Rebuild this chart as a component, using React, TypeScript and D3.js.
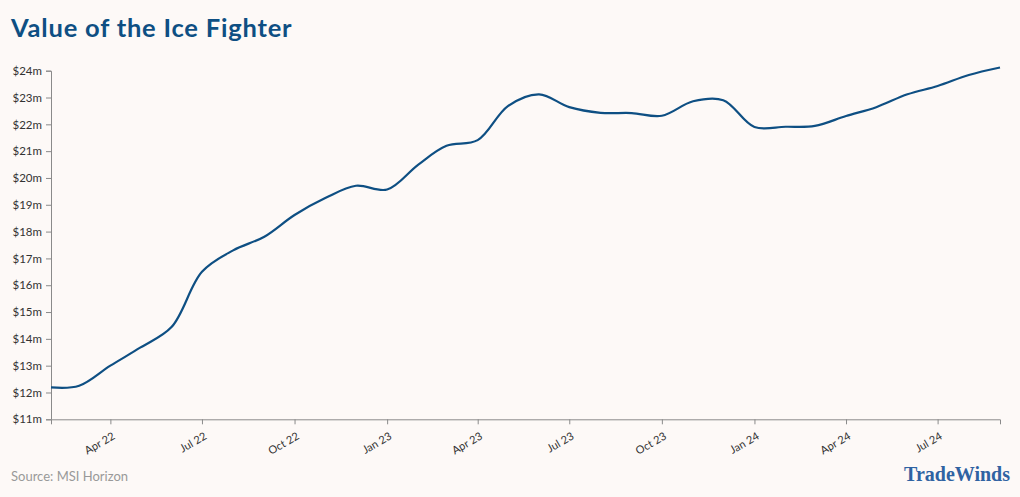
import * as React from 'react';
import * as d3 from 'd3';
import { useRef, useEffect } from 'react';

// monthly values, Feb 2022 .. Sep 2024 ($m)
const months: string[] = [
  '2022-02', '2022-03', '2022-04', '2022-05', '2022-06', '2022-07', '2022-08', '2022-09',
  '2022-10', '2022-11', '2022-12', '2023-01', '2023-02', '2023-03', '2023-04', '2023-05',
  '2023-06', '2023-07', '2023-08', '2023-09', '2023-10', '2023-11', '2023-12', '2024-01',
  '2024-02', '2024-03', '2024-04', '2024-05', '2024-06', '2024-07', '2024-08', '2024-09',
];
const values: number[] = [
  12.19, 12.25, 13.0, 13.68, 14.45, 16.5, 17.3, 17.81,
  18.62, 19.26, 19.71, 19.57, 20.5, 21.2, 21.41, 22.68,
  23.12, 22.64, 22.43, 22.42, 22.32, 22.86, 22.9, 21.9,
  21.91, 21.94, 22.31, 22.64, 23.12, 23.43, 23.84, 24.12,
];
const yTicks: number[] = [11, 12, 13, 14, 15, 16, 17, 18, 19, 20, 21, 22, 23, 24];
const xTickDates: string[] = [
  '2022-04', '2022-07', '2022-10', '2023-01', '2023-04', '2023-07',
  '2023-10', '2024-01', '2024-04', '2024-07',
];

const title = 'Value of the Ice Fighter';
const source = 'Source: MSI Horizon';

const width = 1020;
const height = 497;
const marginLeft = 51;
const marginRight = 20;
const marginTop = 70.7;
const bottomY = 419.3;

const parse = d3.utcParse('%Y-%m');
const fmt = d3.utcFormat('%b %y');

export default function App() {
  const gx = useRef<SVGGElement>(null);
  const gy = useRef<SVGGElement>(null);

  const dates = months.map((m) => parse(m) as Date);
  const x = d3.scaleUtc().domain([dates[0], dates[dates.length - 1]]).range([marginLeft, width - marginRight]);
  const y = d3.scaleLinear().domain([11, 24]).range([bottomY, marginTop]);
  const line = d3
    .line<number>()
    .x((d, i) => x(dates[i]))
    .y((d) => y(d))
    .curve(d3.curveCatmullRom.alpha(0.5));

  useEffect(() => {
    if (!gx.current || !gy.current) return;
    const ax = d3
      .axisBottom(x)
      .tickValues(xTickDates.map((s) => parse(s) as Date))
      .tickFormat((d) => fmt(d as Date))
      .tickSizeOuter(0)
      .tickSize(5);
    const sx = d3.select(gx.current);
    sx.call(ax);
    sx.select('.domain').attr('stroke', '#8a8a8a');
    sx.selectAll('.tick line').attr('stroke', '#8a8a8a');
    sx.selectAll('.tick text')
      .attr('fill', '#333')
      .style('font-size', '11px')
      .style('font-family', 'Lato, "Noto Sans", sans-serif')
      .attr('text-anchor', 'end')
      .attr('dy', null)
      .attr('y', null)
      .attr('transform', 'translate(5,19) rotate(-30)');

    const ay = d3
      .axisLeft(y)
      .tickValues(yTicks)
      .tickFormat((d) => `$${d}m`)
      .tickSizeOuter(0)
      .tickSize(5);
    const sy = d3.select(gy.current);
    sy.call(ay);
    sy.select('.domain').attr('stroke', '#8a8a8a');
    sy.selectAll('.tick line').attr('stroke', '#8a8a8a');
    sy.selectAll('.tick text')
      .attr('fill', '#333')
      .attr('x', -9)
      .style('font-size', '11.5px')
      .style('font-family', 'Lato, "Noto Sans", sans-serif');
  }, []);

  return (
    <svg
      width={width}
      height={height}
      style={{ position: 'absolute', left: 0, top: 0, background: '#fdf9f7' }}
    >
      <rect x={0} y={0} width={width} height={height} fill="#fdf9f7" />
      <text
        x={11}
        y={37}
        fill="#0e4f83"
        fontFamily="Lato, 'Open Sans', sans-serif"
        fontWeight={700}
        fontSize={25.5}
        letterSpacing={0.8}
      >
        {title}
      </text>
      <g ref={gx} transform={`translate(0,${bottomY})`} />
      <g ref={gy} transform={`translate(${marginLeft},0)`} />
      <path fill="none" stroke="#0e4f83" strokeWidth={2.2} d={line(values) || ''} />
      <text x={11} y={481} fill="#999" fontFamily="Lato, 'Noto Sans', sans-serif" fontSize={13}>
        {source}
      </text>
      <text
        x={1010}
        y={481}
        textAnchor="end"
        fill="#2f62a2"
        fontFamily="'Liberation Serif', 'DejaVu Serif', serif"
        fontWeight={700}
        fontSize={20}
      >
        TradeWinds
      </text>
    </svg>
  );
}
